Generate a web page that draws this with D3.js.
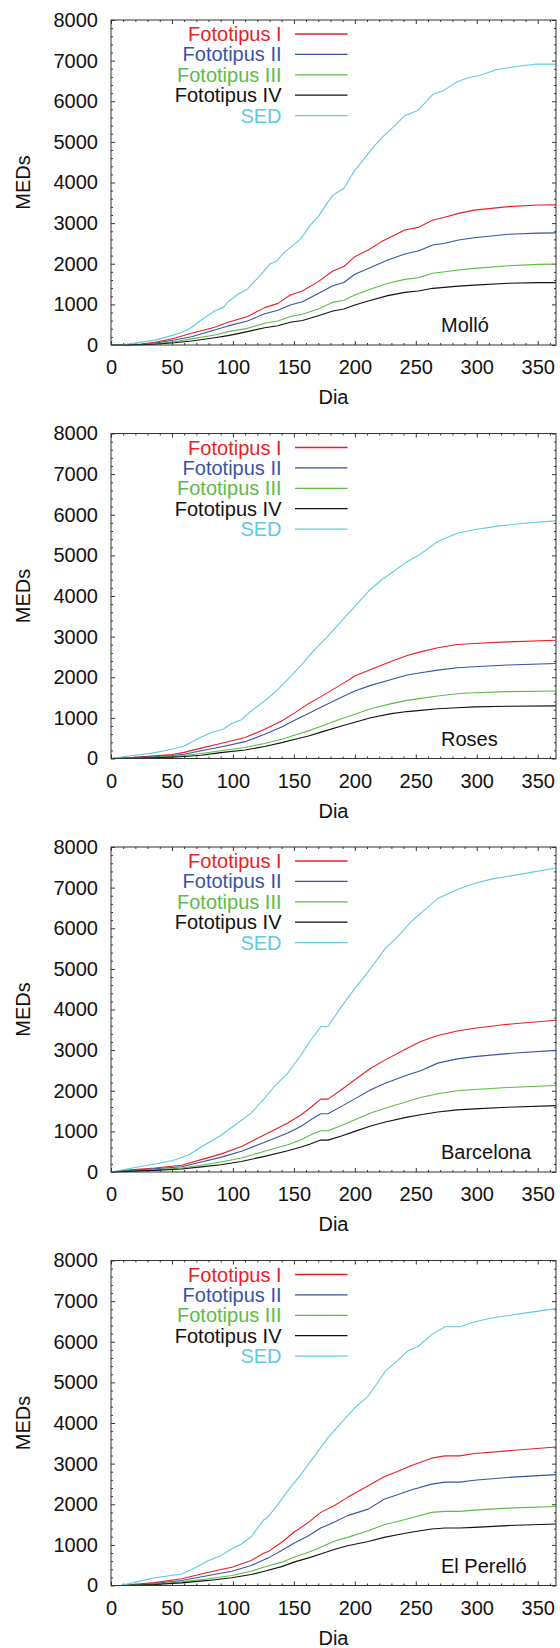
<!DOCTYPE html>
<html>
<head>
<meta charset="utf-8">
<script src="https://cdn.jsdelivr.net/npm/d3@7"></script>
<style>
  html, body { margin: 0; padding: 0; background: #fff; }
  svg { display: block; }
  text { font-family: "Liberation Sans", Arial, Helvetica, sans-serif; }
</style>
</head>
<body>
<svg id="chart" width="560" height="1648"></svg>
<script>
// Cumulative erythemal dose (MEDs) over the year, per skin phototype and SED

const seriesNames = ["Fototipus I", "Fototipus II", "Fototipus III", "Fototipus IV", "SED"];
const seriesColors = ["#ee1c24", "#3953a4", "#5dbb46", "#111111", "#5ecbde"];
const sites = ["Molló", "Roses", "Barcelona", "El Perelló"];
const xTickValues = [0, 50, 100, 150, 200, 250, 300, 350];
const yTickValues = [0, 1000, 2000, 3000, 4000, 5000, 6000, 7000, 8000];

// Molló: [day, MEDs]
const molloI = [[0,0],[10,0],[25,25],[36,65],[52,165],[66,290],[85,435],[96,560],[112,700],[126,920],[137,1025],[147,1230],[157,1330],[170,1560],[182,1820],[191,1930],[200,2175],[211,2340],[222,2545],[241,2830],[252,2895],[264,3075],[273,3140],[285,3240],[298,3320],[326,3405],[350,3445],[365,3450]];
const molloII = [[0,0],[10,0],[25,18],[36,45],[52,125],[66,205],[85,370],[96,470],[112,590],[126,770],[137,855],[147,985],[157,1065],[170,1270],[182,1460],[191,1540],[200,1740],[211,1885],[227,2090],[241,2240],[252,2315],[264,2460],[273,2500],[285,2585],[298,2640],[326,2725],[350,2755],[365,2760]];
const molloIII = [[0,0],[10,0],[25,12],[36,30],[52,80],[66,150],[85,245],[96,330],[112,410],[126,535],[137,590],[147,700],[157,755],[170,885],[182,1050],[191,1100],[200,1230],[211,1355],[227,1520],[241,1615],[252,1655],[264,1765],[285,1845],[298,1885],[326,1950],[350,1985],[365,1990]];
const molloIV = [[0,0],[10,0],[25,8],[36,20],[52,55],[66,100],[85,180],[96,230],[112,330],[126,425],[137,475],[147,560],[157,605],[170,720],[182,835],[191,885],[200,985],[211,1085],[227,1215],[241,1295],[252,1330],[264,1395],[285,1450],[298,1475],[326,1520],[350,1535],[365,1535]];
const molloSED = [[0,0],[10,0],[14,25],[25,70],[36,120],[46,200],[58,310],[66,430],[74,615],[85,835],[92,920],[96,1065],[104,1250],[112,1380],[125,1800],[130,1985],[136,2070],[142,2280],[153,2540],[157,2670],[164,2970],[170,3160],[177,3480],[182,3690],[191,3860],[200,4300],[209,4635],[216,4900],[223,5130],[231,5350],[241,5645],[252,5780],[264,6170],[272,6250],[284,6480],[293,6580],[304,6645],[315,6770],[331,6850],[349,6915],[365,6915]];

// Roses
const rosesI = [[0,0],[14,20],[36,65],[50,100],[60,150],[74,255],[90,370],[110,515],[126,720],[140,925],[151,1130],[162,1350],[173,1535],[189,1825],[200,2030],[213,2190],[230,2395],[243,2535],[254,2625],[268,2725],[284,2805],[298,2830],[325,2870],[365,2910]];
const rosesII = [[0,0],[14,15],[36,45],[50,75],[60,105],[74,190],[90,285],[110,415],[126,595],[140,775],[151,950],[162,1110],[173,1275],[189,1510],[200,1660],[213,1800],[230,1945],[243,2055],[254,2110],[268,2175],[284,2235],[298,2260],[325,2300],[365,2340]];
const rosesIII = [[0,0],[14,10],[36,30],[50,50],[60,75],[74,125],[90,190],[110,270],[126,370],[140,475],[151,580],[162,680],[173,800],[189,980],[200,1090],[213,1225],[230,1350],[243,1430],[254,1480],[268,1540],[284,1595],[298,1620],[325,1645],[365,1660]];
const rosesIV = [[0,0],[14,8],[36,20],[50,35],[60,50],[74,80],[90,145],[110,210],[126,295],[140,390],[151,475],[162,555],[173,655],[189,800],[200,890],[213,1005],[230,1105],[243,1155],[254,1185],[268,1225],[284,1250],[298,1270],[325,1285],[365,1295]];
const rosesSED = [[0,0],[14,60],[25,100],[36,145],[49,220],[60,310],[74,530],[85,665],[92,720],[99,860],[107,955],[115,1170],[126,1415],[137,1700],[145,1945],[156,2300],[167,2680],[178,3010],[189,3380],[200,3745],[211,4110],[222,4400],[230,4565],[241,4810],[252,4995],[268,5340],[284,5545],[298,5630],[317,5720],[339,5790],[365,5850]];

// Barcelona
const barcelonaI = [[0,0],[14,50],[36,100],[58,165],[74,305],[90,440],[107,630],[126,915],[145,1205],[156,1410],[164,1595],[172,1795],[178,1795],[189,2025],[200,2270],[213,2555],[225,2760],[243,3045],[254,3210],[268,3360],[284,3470],[298,3540],[325,3635],[365,3735]];
const barcelonaII = [[0,0],[14,35],[36,80],[58,130],[74,245],[90,360],[107,510],[126,730],[145,960],[156,1125],[164,1290],[172,1435],[178,1435],[189,1615],[200,1800],[213,2025],[225,2185],[243,2390],[254,2490],[268,2680],[284,2785],[298,2840],[325,2915],[365,2995]];
const barcelonaIII = [[0,0],[14,25],[36,55],[58,100],[74,165],[90,245],[107,345],[126,510],[145,670],[156,795],[164,915],[172,1015],[178,1015],[189,1145],[200,1285],[213,1450],[225,1570],[243,1735],[254,1835],[268,1925],[284,2000],[298,2030],[325,2080],[365,2130]];
const barcelonaIV = [[0,0],[14,15],[36,40],[58,75],[74,125],[90,180],[107,260],[126,385],[145,525],[156,615],[164,695],[172,785],[178,785],[189,885],[200,1000],[213,1130],[225,1230],[243,1350],[254,1410],[268,1475],[284,1530],[298,1555],[325,1595],[365,1635]];
const barcelonaSED = [[0,0],[14,80],[36,195],[52,295],[64,425],[77,670],[90,900],[104,1205],[115,1450],[126,1820],[134,2105],[145,2435],[156,2885],[164,3250],[172,3580],[178,3580],[189,4070],[200,4520],[211,4930],[225,5505],[235,5790],[246,6160],[257,6445],[268,6730],[284,6955],[298,7100],[312,7210],[334,7320],[365,7485]];

// El Perelló
const perelloI = [[0,0],[8,0],[36,70],[58,165],[80,325],[99,450],[115,615],[125,795],[129,835],[140,1065],[150,1310],[162,1555],[172,1800],[183,1965],[194,2170],[211,2455],[224,2675],[235,2805],[246,2945],[263,3135],[274,3190],[286,3190],[298,3250],[325,3315],[365,3410]];
const perelloII = [[0,0],[8,0],[36,50],[58,125],[80,245],[99,350],[115,490],[125,630],[129,680],[140,860],[150,1040],[162,1225],[172,1415],[183,1555],[194,1720],[211,1880],[224,2125],[235,2235],[246,2350],[263,2495],[274,2545],[286,2545],[298,2590],[325,2660],[365,2730]];
const perelloIII = [[0,0],[8,0],[36,35],[58,90],[80,165],[99,245],[115,350],[125,450],[140,575],[150,695],[162,820],[172,940],[183,1090],[194,1185],[211,1350],[224,1495],[235,1575],[246,1660],[263,1800],[274,1825],[286,1825],[298,1855],[325,1905],[365,1945]];
const perelloIV = [[0,0],[8,0],[36,25],[58,65],[80,125],[99,190],[115,270],[125,345],[140,465],[150,575],[162,680],[172,775],[183,885],[194,980],[211,1085],[224,1185],[235,1250],[246,1310],[263,1390],[274,1415],[286,1415],[298,1430],[325,1475],[365,1515]];
const perelloSED = [[0,0],[8,0],[14,40],[36,190],[58,285],[69,435],[80,615],[90,735],[99,900],[107,1020],[115,1200],[125,1610],[127,1635],[134,1880],[145,2330],[156,2740],[167,3190],[178,3640],[189,4010],[200,4375],[211,4660],[225,5275],[235,5535],[243,5765],[252,5890],[263,6175],[274,6370],[286,6370],[298,6485],[312,6585],[339,6705],[365,6815]];

const siteSeries = [
  [molloI, molloII, molloIII, molloIV, molloSED],
  [rosesI, rosesII, rosesIII, rosesIV, rosesSED],
  [barcelonaI, barcelonaII, barcelonaIII, barcelonaIV, barcelonaSED],
  [perelloI, perelloII, perelloIII, perelloIV, perelloSED]
];

// Layout
const plotLeft = 111, plotRight = 556, plotH = 325;
const firstTop = 20, panelStep = 413.5;
const fontSize = 20;

const svg = d3.select("#chart");

const x = d3.scaleLinear().domain([0, 365]).range([0, plotRight - plotLeft]);
const y = d3.scaleLinear().domain([0, 8000]).range([plotH, 0]);

const xMinor = d3.range(10, 365, 10).filter(d => d % 50 !== 0);
const yMinor = d3.range(200, 8000, 200).filter(d => d % 1000 !== 0);

const line = d3.line().x(d => x(d[0])).y(d => y(d[1]));

sites.forEach((site, i) => {
  const top = firstTop + i * panelStep;
  const g = svg.append("g").attr("transform", `translate(${plotLeft},${top})`);
  const w = plotRight - plotLeft;

  g.append("clipPath").attr("id", "clip" + i)
    .append("rect").attr("x", 0).attr("y", -1).attr("width", w).attr("height", plotH + 2);

  // major and minor ticks on every side, pointing inward
  const styleAxis = sel => {
    sel.select(".domain").remove();
    sel.selectAll(".tick line").attr("stroke", "#333").attr("stroke-width", 1);
    sel.selectAll("text").attr("font-size", fontSize).attr("fill", "#111")
      .attr("font-family", '"Liberation Sans", Arial, Helvetica, sans-serif');
  };

  g.append("g").attr("transform", `translate(0,${plotH})`)
    .call(d3.axisBottom(x).tickValues(xTickValues).tickSize(-4).tickPadding(15).tickFormat(d3.format("d")))
    .call(styleAxis);
  g.append("g").attr("transform", `translate(0,${plotH})`)
    .call(d3.axisBottom(x).tickValues(xMinor).tickSize(-2).tickFormat(""))
    .call(styleAxis);
  g.append("g")
    .call(d3.axisTop(x).tickValues(xTickValues).tickSize(-4).tickFormat(""))
    .call(styleAxis);
  g.append("g")
    .call(d3.axisTop(x).tickValues(xMinor).tickSize(-2).tickFormat(""))
    .call(styleAxis);

  g.append("g")
    .call(d3.axisLeft(y).tickValues(yTickValues).tickSize(-4).tickPadding(13).tickFormat(d3.format("d")))
    .call(styleAxis);
  g.append("g")
    .call(d3.axisLeft(y).tickValues(yMinor).tickSize(-2).tickFormat(""))
    .call(styleAxis);
  g.append("g").attr("transform", `translate(${w},0)`)
    .call(d3.axisRight(y).tickValues(yTickValues).tickSize(-4).tickFormat(""))
    .call(styleAxis);
  g.append("g").attr("transform", `translate(${w},0)`)
    .call(d3.axisRight(y).tickValues(yMinor).tickSize(-2).tickFormat(""))
    .call(styleAxis);

  // curves
  const curves = g.append("g").attr("clip-path", `url(#clip${i})`);
  siteSeries[i].forEach((data, k) => {
    curves.append("path")
      .datum(data)
      .attr("d", line)
      .attr("fill", "none")
      .attr("stroke", seriesColors[k])
      .attr("stroke-width", 1.1)
      .attr("stroke-linejoin", "round");
  });

  // frame
  g.append("rect")
    .attr("x", 0).attr("y", 0).attr("width", w).attr("height", plotH)
    .attr("fill", "none").attr("stroke", "#333").attr("stroke-width", 1);

  // legend
  const legend = g.append("g");
  seriesNames.forEach((name, k) => {
    const ly = 14 + k * 20.4;
    legend.append("text")
      .attr("x", 281.5 - plotLeft).attr("y", ly)
      .attr("dy", "0.35em")
      .attr("text-anchor", "end")
      .attr("font-size", fontSize)
      .attr("fill", seriesColors[k])
      .text(name);
    legend.append("line")
      .attr("x1", 295 - plotLeft).attr("x2", 347.5 - plotLeft)
      .attr("y1", ly).attr("y2", ly)
      .attr("stroke", seriesColors[k])
      .attr("stroke-width", 1.3);
  });

  // site name
  g.append("text")
    .attr("x", 441 - plotLeft).attr("y", plotH - 13)
    .attr("font-size", fontSize)
    .attr("fill", "#111")
    .text(site);

  // axis titles
  g.append("text")
    .attr("x", w / 2).attr("y", plotH + 59)
    .attr("text-anchor", "middle")
    .attr("font-size", fontSize)
    .attr("fill", "#111")
    .text("Dia");
  g.append("text")
    .attr("transform", `translate(${23 - plotLeft + 7},${plotH / 2}) rotate(-90)`)
    .attr("text-anchor", "middle")
    .attr("font-size", fontSize)
    .attr("fill", "#111")
    .text("MEDs");
});
</script>
</body>
</html>
